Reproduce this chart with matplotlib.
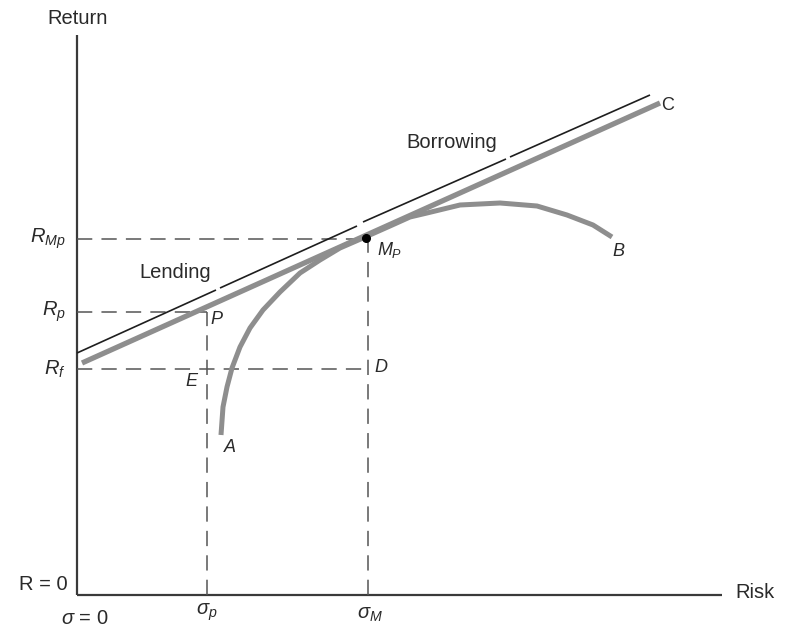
import matplotlib
matplotlib.use("Agg")
import matplotlib.pyplot as plt
import numpy as np

plt.rcParams['font.family'] = ['Liberation Sans', 'DejaVu Sans']
plt.rcParams['mathtext.fontset'] = 'custom'
plt.rcParams['mathtext.rm'] = 'Liberation Sans'
plt.rcParams['mathtext.it'] = 'Liberation Sans:italic'

# ---- data (risk on x, return on y) ----
r_f = 226
r_p = 283
r_mp = 356
sigma_p = 130
sigma_m = 291
m_point = (289, 357)

# capital market line (grey, thick)
cml_x = [5, 583]
cml_y = [232, 492]

# thin black lending/borrowing line, drawn in segments with small breaks
black_segments_x = [[0, 139], [143, 280], [286, 429], [433, 573]]
black_segments_y = [[242, 305], [307, 369], [373, 436], [438, 500]]

# efficient frontier A -> B
front_x = [144, 146, 150, 155, 163, 173, 186, 203, 223, 243, 263, 286,
           313, 333, 350, 383, 423, 460, 490, 516, 535]
front_y = [160, 188, 208, 227, 248, 267, 285, 303, 322, 335, 347, 357,
           369, 378, 382, 390, 392, 389, 380, 370, 358]

x_axis_end = 645
y_axis_end = 560

fig = plt.figure(figsize=(7.89, 6.30), dpi=100)
ax = fig.add_axes([0, 0, 1, 1])
ax.set_xlim(-77, 712)
ax.set_ylim(-35, 595)
ax.axis('off')

axis_col = '#3a3a3a'
ax.plot([0, 0], [0, y_axis_end], color=axis_col, lw=1.6, solid_capstyle='butt')
ax.plot([0, x_axis_end], [0, 0], color=axis_col, lw=1.6, solid_capstyle='butt')

dash_col = '#555555'
dls = (0, (10, 6))
dlw = 1.1
ax.plot([0, m_point[0]], [r_mp, r_mp], color=dash_col, lw=dlw, ls=dls)
ax.plot([0, sigma_p], [r_p, r_p], color=dash_col, lw=dlw, ls=dls)
ax.plot([0, sigma_m], [r_f, r_f], color=dash_col, lw=dlw, ls=dls)
ax.plot([sigma_p, sigma_p], [0, r_p], color=dash_col, lw=dlw, ls=dls)
ax.plot([sigma_m, sigma_m], [0, r_mp], color=dash_col, lw=dlw, ls=dls)

grey = '#8e8e8e'
ax.plot(cml_x, cml_y, color=grey, lw=3.8, solid_capstyle='butt')
ax.plot(front_x, front_y, color=grey, lw=3.6, solid_capstyle='butt',
        solid_joinstyle='round')

for sx, sy in zip(black_segments_x, black_segments_y):
    ax.plot(sx, sy, color='#1e1e1e', lw=1.2, solid_capstyle='butt')

ax.plot([m_point[0]], [m_point[1]], 'o', color='black', ms=5.5)

tc = '#2a2a2a'
fs = 14.5
ax.text(1, 577, 'Return', ha='center', va='center', fontsize=fs, color=tc)
ax.text(658, 2, 'Risk', ha='left', va='center', fontsize=fs, color=tc)
ax.text(375, 452, 'Borrowing', ha='center', va='center', fontsize=fs, color=tc)
ax.text(98, 322, 'Lending', ha='center', va='center', fontsize=fs, color=tc)

ax.text(-9, 10, 'R = 0', ha='right', va='center', fontsize=fs, color=tc)
ax.text(8, -23, r'$\sigma$ = 0', ha='center', va='center', fontsize=fs, color=tc)
ax.text(130, -17, r'$\sigma_p$', ha='center', va='center', fontsize=fs, color=tc)
ax.text(293, -20, r'$\sigma_M$', ha='center', va='center', fontsize=fs, color=tc)

ax.text(-11, r_mp, r'$R_{Mp}$', ha='right', va='center', fontsize=fs, color=tc)
ax.text(-11, r_p, r'$R_p$', ha='right', va='center', fontsize=fs, color=tc)
ax.text(-11, r_f, r'$R_f$', ha='right', va='center', fontsize=fs, color=tc)

lfs = 13
ax.text(591, 489, 'C', ha='center', va='center', fontsize=lfs, color=tc)
ax.text(541, 343, 'B', ha='center', va='center', fontsize=lfs, color=tc, style='italic')
ax.text(153, 147, 'A', ha='center', va='center', fontsize=lfs, color=tc, style='italic')
ax.text(300, 345, r'$M_P$', ha='left', va='center', fontsize=lfs, color=tc)
ax.text(139, 276, 'P', ha='center', va='center', fontsize=lfs, color=tc, style='italic')
ax.text(114, 213, 'E', ha='center', va='center', fontsize=lfs, color=tc, style='italic')
ax.text(304, 227, 'D', ha='center', va='center', fontsize=lfs, color=tc, style='italic')

fig.savefig('out.png', dpi=100, facecolor='white')
